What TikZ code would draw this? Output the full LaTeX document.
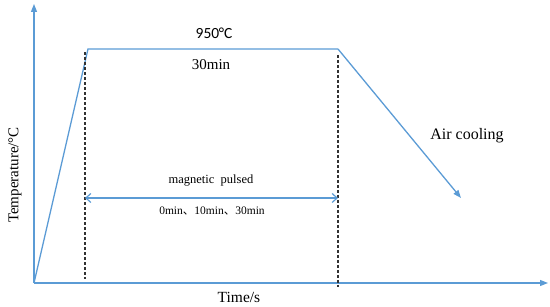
\documentclass[tikz,border=0pt]{standalone}
\usepackage{fontspec}
\setmainfont{Liberation Serif}
\newfontfamily\calib{Carlito}
\newfontfamily\cjk{Noto Sans CJK SC}
\usetikzlibrary{arrows.meta}
\definecolor{lineblue}{RGB}{91,155,213}
\definecolor{dashgray}{RGB}{50,50,50}
\tikzset{
  curve/.style={draw=lineblue, line width=1.3pt},
  axis/.style={draw=lineblue, line width=1.3pt, -{Triangle[length=8pt,width=6pt]}},
  guide/.style={draw=dashgray, line width=1.2pt, dash pattern=on 3pt off 2pt},
  span/.style={draw=lineblue, line width=1.2pt, {Straight Barb[length=5pt,width=9pt]}-{Straight Barb[length=5pt,width=9pt]}},
  lbl/.style={inner sep=0pt, font=\fontsize{15}{17}\selectfont}
}
\begin{document}
\begin{tikzpicture}[x=1pt,y=-1pt]
\useasboundingbox (0,0) rectangle (550,307);
% key points
\coordinate (O) at (34,283);
\coordinate (Ytop) at (34,4);
\coordinate (Xend) at (548,283);
\coordinate (A) at (88,49);
\coordinate (B) at (338,49);
\coordinate (C) at (461,198);
\coordinate (L1) at (85,52);
\coordinate (L2) at (85,279);
\coordinate (R1) at (338,55);
\coordinate (R2) at (338,287);
\coordinate (SL) at (85,198);
\coordinate (SR) at (338,198);
% axes
\draw[axis] (O) -- (Ytop);
\draw[axis] (O) -- (Xend);
% curve
\draw[curve] (O) -- (A) -- (B);
\draw[axis] (B) -- (C);
% guides
\draw[guide] (L1) -- (L2);
\draw[guide] (R1) -- (R2);
\draw[span] (SL) -- (SR);
% labels
\node[lbl, font=\calib\fontsize{15.5}{17}\selectfont] (t950) at (214,33) {950\kern-0.5pt°C};
\node[lbl] (t30) at (211,65) {30min};
\node[lbl, font=\fontsize{12.5}{14}\selectfont] (tmag) at (211,181) {magnetic\ \ pulsed};
\node[lbl, font=\fontsize{11.5}{14}\selectfont] (tmin) at (212,211) {0min{\cjk 、}10min{\cjk 、}30min};
\node[lbl, font=\fontsize{16}{18}\selectfont] (tair) at (467,136) {Air cooling};
\node[lbl, font=\fontsize{15.5}{18}\selectfont] (ttime) at (239,297) {Time/s};
\node[lbl, rotate=90, font=\fontsize{15}{18}\selectfont] (ttemp) at (15,175) {Temperature/°C};
\end{tikzpicture}
\end{document}
